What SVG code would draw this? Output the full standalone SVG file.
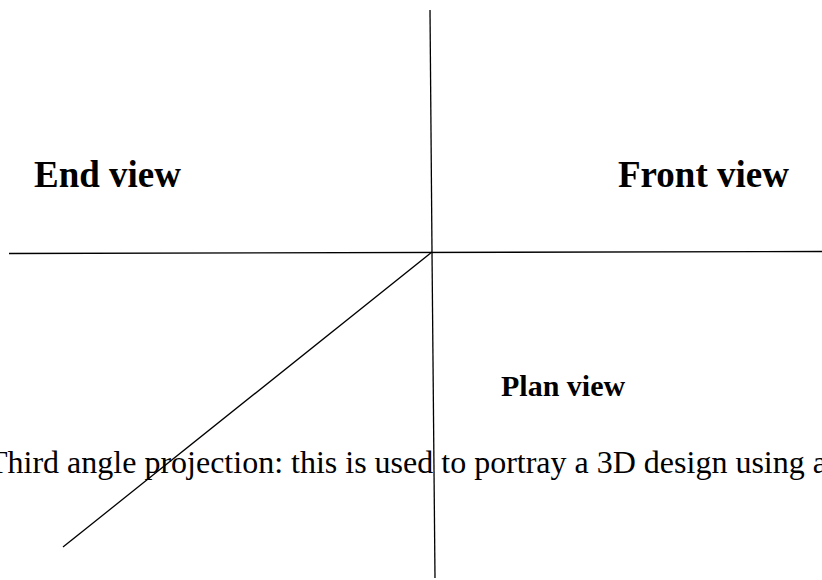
<svg xmlns="http://www.w3.org/2000/svg" width="822" height="580" viewBox="0 0 822 580">
<style>
.ln{stroke:#000;stroke-width:1.3;fill:none}
.lbl{font-family:"Liberation Serif","Times New Roman",serif;font-weight:bold;fill:#000}
.cap{font-family:"Liberation Serif","Times New Roman",serif;fill:#000}
</style>
<rect width="822" height="580" fill="#fff"/>
<g id="connectors">
<line class="ln" x1="430" y1="10" x2="432" y2="252"/>
<line class="ln" x1="432" y1="252" x2="435" y2="578"/>
<line class="ln" x1="9" y1="253.5" x2="822" y2="251.5" stroke-width="1.6"/>
<line class="ln" x1="432" y1="252" x2="63" y2="547"/>
</g>
<g id="end-view"><text class="lbl" x="34" y="187" font-size="37">End view</text></g>
<g id="front-view"><text class="lbl" x="618" y="187" font-size="37">Front view</text></g>
<g id="plan-view"><text class="lbl" x="501" y="396" font-size="30">Plan view</text></g>
<g id="caption"><text class="cap" x="-12" y="473" font-size="32">Third angle projection: this is used to portray a 3D design using a</text></g>
</svg>
